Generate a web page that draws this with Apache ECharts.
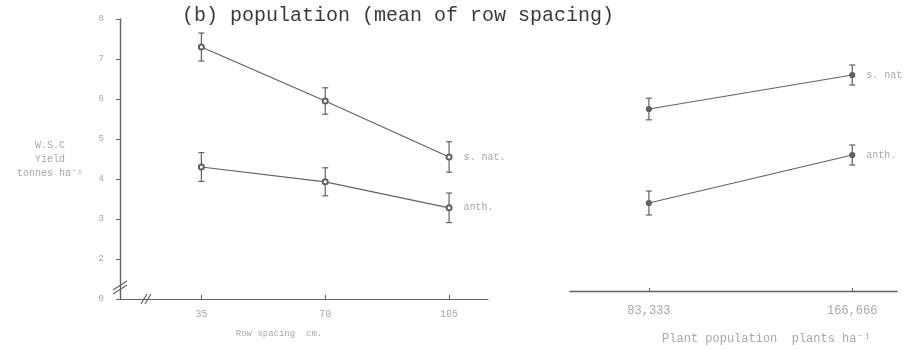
<!DOCTYPE html>
<html>
<head>
<meta charset="utf-8">
<script src="https://cdn.jsdelivr.net/npm/echarts@6/dist/echarts.min.js"></script>
<style>
  html, body { margin: 0; padding: 0; background: #fff; }
  #chart { width: 914px; height: 350px; }
</style>
</head>
<body>
<div id="chart"></div>
<script>
// row spacing (cm) panel
const rowSpacing = [35, 70, 105]
const rowNat = [7.3, 5.95, 4.55]
const rowNatErr = [0.35, 0.33, 0.38]
const rowAnth = [4.3, 3.93, 3.28]
const rowAnthErr = [0.36, 0.35, 0.37]

// plant population panel
const population = [83333, 166666]
const popLabels = ['83,333', '166,666']
const popNat = [5.75, 6.6]
const popNatErr = [0.27, 0.25]
const popAnth = [3.4, 4.6]
const popAnthErr = [0.3, 0.25]

const yTicks = [1, 2, 3, 4, 5, 6, 7, 8]
const seriesNames = ['s. nat.', 'anth.']

const mono = '"Liberation Mono", "DejaVu Sans Mono", monospace'
const ink = '#626262'
const faint = '#a8a8a8'

const chart = echarts.init(document.getElementById('chart'))

// 线 + 末端标签
const lineSeries = (xs, ys, name, gridIdx, symbol, endName) => ({
  type: 'line',
  name: name,
  xAxisIndex: gridIdx,
  yAxisIndex: gridIdx,
  data: xs.map((x, i) => {
    const item = { value: [x, ys[i]] }
    if (i === xs.length - 1) {
      item.label = {
        show: true, position: 'right', distance: 11,
        formatter: endName, color: faint, fontFamily: mono, fontSize: 10
      }
    }
    return item
  }),
  symbol: symbol,
  symbolSize: 5,
  lineStyle: { color: ink, width: 1.2 },
  itemStyle: { color: ink, borderColor: ink, borderWidth: 1.2 },
  z: 3
})

// 误差线
const errSeries = (xs, ys, errs, gridIdx) => ({
  type: 'custom',
  xAxisIndex: gridIdx,
  yAxisIndex: gridIdx,
  data: xs.map((x, i) => [x, ys[i] - errs[i], ys[i] + errs[i]]),
  renderItem: (params, api) => {
    const lo = api.coord([api.value(0), api.value(1)])
    const hi = api.coord([api.value(0), api.value(2)])
    const w = 3
    const st = { stroke: ink, lineWidth: 1.2 }
    return {
      type: 'group',
      children: [
        { type: 'line', shape: { x1: lo[0], y1: lo[1], x2: hi[0], y2: hi[1] }, style: st },
        { type: 'line', shape: { x1: lo[0] - w, y1: lo[1], x2: lo[0] + w, y2: lo[1] }, style: st },
        { type: 'line', shape: { x1: hi[0] - w, y1: hi[1], x2: hi[0] + w, y2: hi[1] }, style: st }
      ]
    }
  },
  z: 2
})

const breakLine = (x1, y1, x2, y2) => ({
  type: 'line', shape: { x1, y1, x2, y2 }, style: { stroke: ink, lineWidth: 1.2 }
})

const option = {
  backgroundColor: '#fff',
  animation: false,
  title: {
    text: '(b) population (mean of row spacing)',
    left: 177, top: 1,
    textStyle: { fontFamily: mono, fontSize: 20, fontWeight: 'normal', color: '#3a3a3a' }
  },
  grid: [
    { left: 120, right: 426, top: 19, bottom: 51 },
    { left: 570, right: 17, top: 19, bottom: 59 }
  ],
  xAxis: [
    {
      gridIndex: 0, type: 'value', min: 12, max: 116,
      name: 'Row spacing  cm.', nameLocation: 'middle', nameGap: 30,
      nameTextStyle: { fontFamily: mono, fontSize: 9, color: faint, padding: [0, 50, 0, 0] },
      axisLine: { show: true, onZero: false, lineStyle: { color: ink, width: 1.2 } },
      axisTick: { show: true, inside: true, length: 4, customValues: rowSpacing, lineStyle: { color: ink } },
      axisLabel: { customValues: rowSpacing, fontFamily: mono, fontSize: 10, color: faint, margin: 10 },
      splitLine: { show: false }
    },
    {
      gridIndex: 1, type: 'value', min: 51000, max: 185000,
      name: 'Plant population  plants ha\u207B\u00B9', nameLocation: 'middle', nameGap: 42,
      nameTextStyle: { fontFamily: mono, fontSize: 12, color: faint, padding: [0, 0, 0, 66] },
      axisLine: { show: true, onZero: false, lineStyle: { color: ink, width: 1.4 } },
      axisTick: { show: true, inside: true, length: 3, customValues: population, lineStyle: { color: ink } },
      axisLabel: {
        customValues: population, fontFamily: mono, fontSize: 12, color: faint, margin: 14,
        formatter: v => popLabels[population.indexOf(v)]
      },
      splitLine: { show: false }
    }
  ],
  yAxis: [
    {
      gridIndex: 0, type: 'value', min: 1, max: 8, interval: 1,
      name: 'W.S.C\nYield\ntonnes ha\u207B\u00B9', nameLocation: 'middle', nameRotate: 0, nameGap: 70,
      nameTextStyle: { fontFamily: mono, fontSize: 10, color: faint, align: 'center', lineHeight: 14 },
      axisLine: { show: true, lineStyle: { color: ink, width: 1.4 } },
      axisTick: { show: true, length: 4, customValues: yTicks, lineStyle: { color: ink } },
      axisLabel: {
        customValues: yTicks, fontFamily: mono, fontSize: 9, color: faint, margin: 16,
        formatter: v => (v === 1 ? '0' : String(v))
      },
      splitLine: { show: false }
    },
    {
      gridIndex: 1, type: 'value', min: 1.2, max: 8,
      show: false, splitLine: { show: false }
    }
  ],
  series: [
    lineSeries(rowSpacing, rowNat, seriesNames[0], 0, 'emptyCircle', 's. nat.'),
    lineSeries(rowSpacing, rowAnth, seriesNames[1], 0, 'emptyCircle', 'anth.'),
    errSeries(rowSpacing, rowNat, rowNatErr, 0),
    errSeries(rowSpacing, rowAnth, rowAnthErr, 0),
    lineSeries(population, popNat, seriesNames[0], 1, 'circle', 's. nat'),
    lineSeries(population, popAnth, seriesNames[1], 1, 'circle', 'anth.'),
    errSeries(population, popNat, popNatErr, 1),
    errSeries(population, popAnth, popAnthErr, 1)
  ],
  graphic: [
    // 坐标轴断开标记
    breakLine(113, 290, 127, 281),
    breakLine(113, 294, 127, 285),
    breakLine(141, 304, 147, 294),
    breakLine(145, 304, 151, 294)
  ]
}

chart.setOption(option)
</script>
</body>
</html>
